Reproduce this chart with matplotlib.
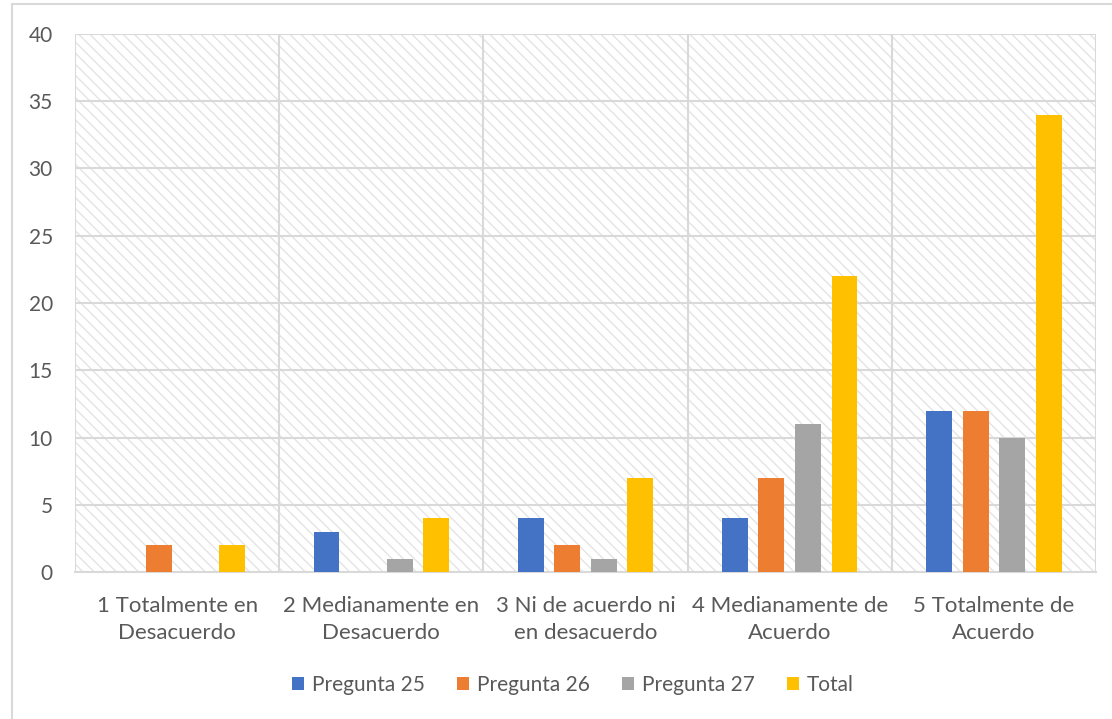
import numpy as np
import matplotlib
matplotlib.use('Agg')
import matplotlib.pyplot as plt
from matplotlib.patches import Rectangle

categorias = ['1 Totalmente en\nDesacuerdo', '2 Medianamente en\nDesacuerdo',
              '3 Ni de acuerdo ni\nen desacuerdo', '4 Medianamente de\nAcuerdo',
              '5 Totalmente de\nAcuerdo']
pregunta25 = [0, 3, 4, 4, 12]
pregunta26 = [2, 0, 2, 7, 12]
pregunta27 = [0, 1, 1, 11, 10]
total = [2, 4, 7, 22, 34]
series = ['Pregunta 25', 'Pregunta 26', 'Pregunta 27', 'Total']
colores = ['#4472C4', '#ED7D31', '#A5A5A5', '#FFC000']

plt.rcParams['font.family'] = ['Lato', 'DejaVu Sans']
plt.rcParams['hatch.linewidth'] = 1.0
texto = '#595959'
rejilla = '#d9d9d9'

fig = plt.figure(figsize=(11.12, 7.19), dpi=100)
ax = fig.add_axes([75/1112, 1-572/719, (1096-75)/1112, (572-34)/719])

# fondo rayado
ax.patch.set_facecolor('white')
ax.patch.set_hatch('\\\\\\')
ax.patch.set_edgecolor('#e4e4e4')
ax.patch.set_linewidth(0)

x = np.arange(len(categorias))
ancho = 0.127
paso = 0.179
datos = [pregunta25, pregunta26, pregunta27, total]
for i, (vals, nombre, c) in enumerate(zip(datos, series, colores)):
    ax.bar(x + (i - 1.5)*paso, vals, width=ancho, color=c, label=nombre, zorder=3)

ax.set_xlim(-0.5, len(categorias) - 0.5)
ax.set_ylim(0, 40)
ax.set_yticks(range(0, 41, 5))
ax.set_xticks(x)
ax.set_xticklabels(categorias, fontsize=16, color=texto, linespacing=1.45)
ax.tick_params(axis='y', labelsize=15, labelcolor=texto, length=0, pad=16)
ax.tick_params(axis='x', length=0, pad=17)

ax.yaxis.grid(True, color=rejilla, linewidth=1.5, zorder=1)
for b in np.arange(-0.5, len(categorias), 1.0):
    ax.axvline(b, color=rejilla, linewidth=1.5, zorder=1)
ax.set_axisbelow(True)
for s in ['top', 'right', 'left']:
    ax.spines[s].set_visible(False)
ax.spines['bottom'].set_color(rejilla)
ax.spines['bottom'].set_linewidth(1.5)

fig.legend(loc='center', bbox_to_anchor=(0.515, 1-685/719), ncol=4, frameon=False,
           fontsize=15, labelcolor=texto, handlelength=0.6, handleheight=0.6,
           handletextpad=0.35, columnspacing=1.55)

fig.patches.append(Rectangle((12/1112, -0.1), 1.2, 0.1 + 1 - 4/719,
                             transform=fig.transFigure, fill=False,
                             edgecolor=rejilla, linewidth=1.5))

plt.savefig('out.png', dpi=100)
